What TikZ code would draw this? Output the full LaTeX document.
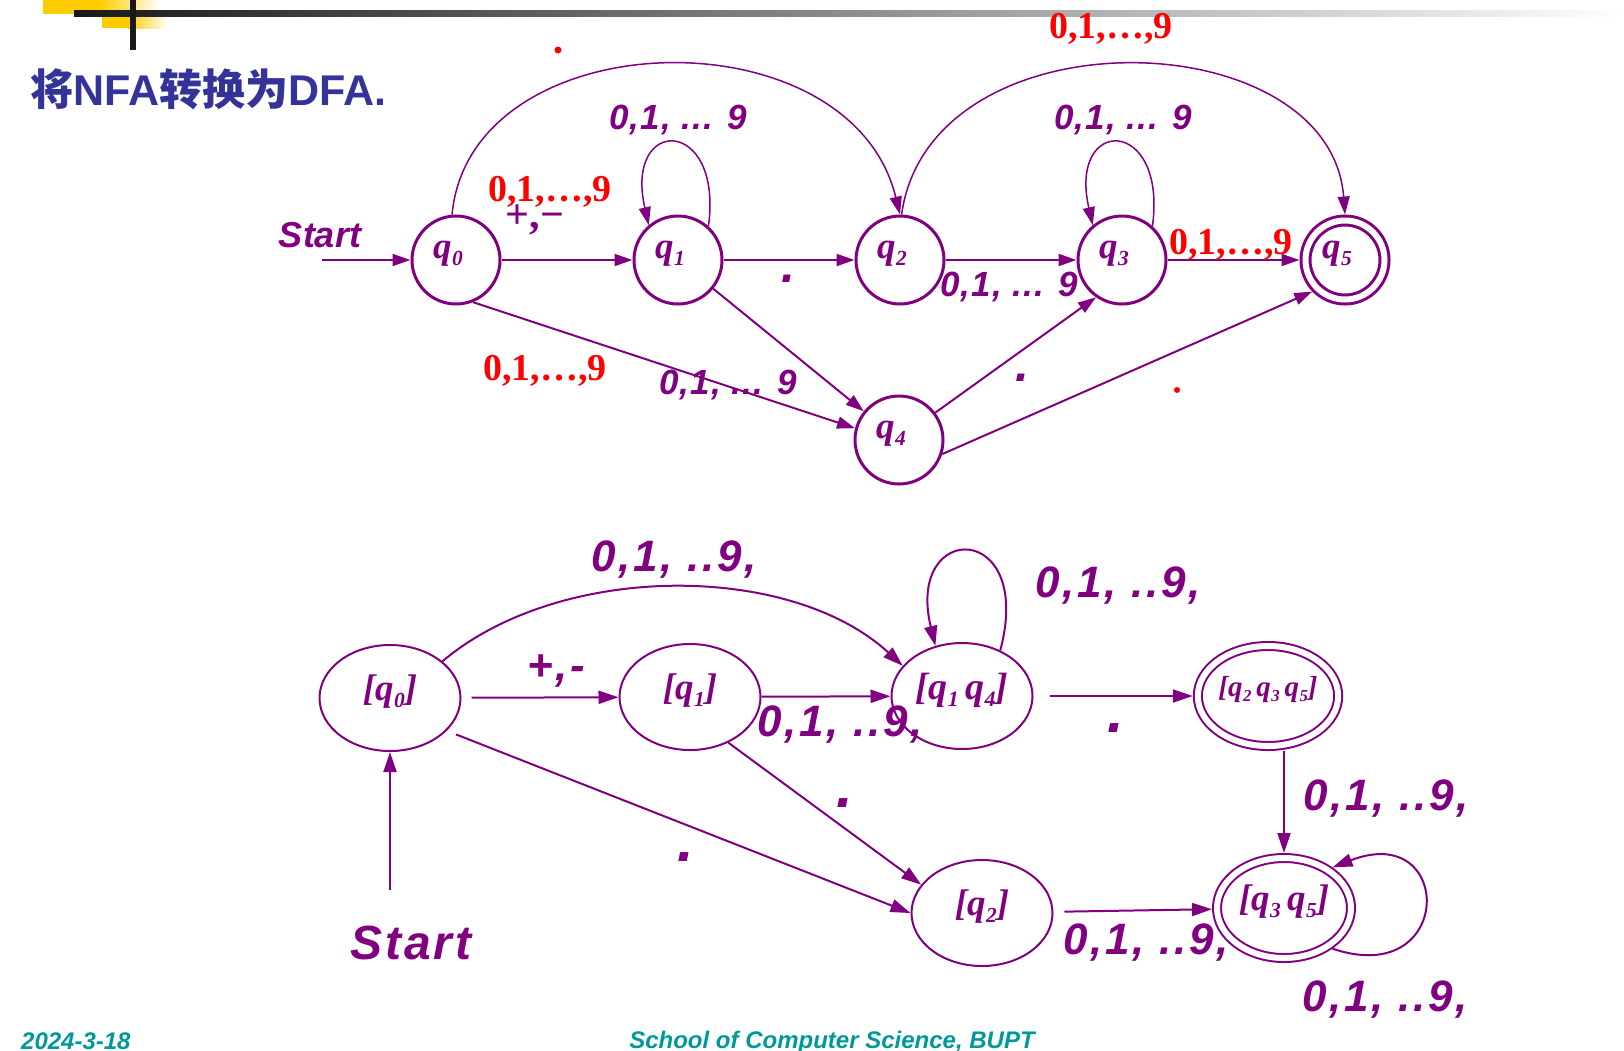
\documentclass[tikz,border=0pt]{standalone}
\usepackage{fontspec}
\setmainfont{Liberation Serif}
\setsansfont{Liberation Sans}
\newfontfamily\cjkfont{Noto Sans CJK SC}
\usetikzlibrary{arrows.meta,shapes.geometric,calc}
\definecolor{nfaPurple}{RGB}{128,0,128}
\definecolor{titleBlue}{RGB}{51,51,153}
\definecolor{footTeal}{RGB}{0,153,153}
\definecolor{barYellow}{RGB}{255,204,0}
\newcommand{\qn}[1]{q\kern.5pt\raisebox{-.18em}{\scalebox{.58}{#1}}}
\newcommand{\nfaName}[1]{\raisebox{20pt}{\qn{#1}}\kern16pt}
\newcommand{\dfaName}[1]{\raisebox{20pt}{[#1]}}

\begin{document}
\begin{tikzpicture}[x=1pt,y=-1pt,
				nfaState/.style={draw=nfaPurple,circle,line width=3pt,minimum size=88pt,inner sep=0pt,text=nfaPurple,font=\fontsize{37}{37}\selectfont\bfseries\itshape},
				nfaFinal/.style={nfaState,double,double distance=6pt,minimum size=79pt,outer sep=6pt},
				dfaState/.style={draw=nfaPurple,ellipse,line width=2pt,minimum width=141pt,minimum height=106pt,inner sep=0pt,text=nfaPurple,font=\fontsize{37}{37}\selectfont\bfseries\itshape},
				dfaFinal/.style={dfaState,double,double distance=6pt,minimum width=134pt,minimum height=100pt,outer sep=5pt},
				nfaEdge/.style={draw=nfaPurple,line width=2pt,-{Triangle[length=18pt,width=12pt]}},
				nfaLoop/.style={nfaEdge,line width=1.5pt},
				dfaEdge/.style={draw=nfaPurple,line width=2pt,-{Triangle[length=20pt,width=13pt]}},
				nfaLabel/.style={text=nfaPurple,inner sep=0pt,font=\fontsize{35}{35}\selectfont\sffamily\bfseries\itshape\addfontfeature{LetterSpace=3}},
				redLabel/.style={text=red,inner sep=0pt,font=\fontsize{38}{38}\selectfont\rmfamily\bfseries},
				dfaLabel/.style={text=nfaPurple,inner sep=0pt,font=\fontsize{44}{44}\selectfont\sffamily\bfseries\itshape\addfontfeature{LetterSpace=6}},
				dotLabel/.style={text=nfaPurple,inner sep=0pt,font=\fontsize{60}{60}\selectfont\sffamily\bfseries\itshape},
				footText/.style={text=footTeal,inner sep=0pt,font=\fontsize{24}{24}\selectfont\sffamily\bfseries\itshape}]
			\useasboundingbox (0,0) rectangle (1624,1050);
			\fill[barYellow] (43,0) rectangle (100,14);
			\shade[left color=barYellow,right color=white] (100,0) rectangle (160,14);
			\fill[barYellow] (102,14) rectangle (128,28);
			\shade[left color=barYellow,right color=white] (128,14) rectangle (168,28);
			\shade[left color=black!90,middle color=black!35,right color=white] (74,10) rectangle (1624,16);
			\fill[black!90] (130,0) rectangle (136,50);
			\node[anchor=west,text=titleBlue,inner sep=0pt,font=\fontsize{43}{43}\selectfont\sffamily\bfseries] (title) at (30,89) {{\cjkfont\bfseries 将}NFA{\cjkfont\bfseries 转换为}DFA.};

			\node[nfaState] (q0) at (456,260) {\nfaName{0}};
			\node[nfaState] (q1) at (678,260) {\nfaName{1}};
			\node[nfaState] (q2) at (900,260) {\nfaName{2}};
			\node[nfaState] (q3) at (1122,260) {\nfaName{3}};
			\node[nfaFinal] (q5) at (1345,260) {\nfaName{5}};
			\node[nfaState] (q4) at (899,440) {\nfaName{4}};
			\coordinate (startTop) at (322,260);
			\node[nfaLabel,font=\fontsize{36}{36}\selectfont\sffamily\bfseries\itshape] (startTopText) at (320,235) {Start};

			\draw[nfaEdge] (startTop) -- (q0);
			\draw[nfaEdge] (q0) -- (q1);
			\draw[nfaEdge] (q1) -- (q2);
			\draw[nfaEdge] (q2) -- (q3);
			\draw[nfaEdge] (q3) -- (q5);
			\draw[nfaEdge] (q0.-68) -- (q4.165);
			\draw[nfaEdge] (q1) -- (q4);
			\draw[nfaEdge] (q4.37) -- (q3.-125);
			\draw[nfaEdge] (q4.-18) -- (q5.-136);
			\draw[nfaLoop] (q1.48) .. controls +(15,-110) and +(-25,-110) .. (q1.130);
			\draw[nfaLoop] (q3.48) .. controls +(15,-110) and +(-25,-110) .. (q3.130);
			\draw[nfaLoop] (q0.95) .. controls (470,20) and (850,10) .. (q2.90);
			\draw[nfaLoop] (q2.88) .. controls (930,10) and (1330,20) .. (q5.90);

			\node[redLabel] (r01) at (550,192) {0,1,…,9};
			\node[text=nfaPurple,inner sep=0pt,font=\fontsize{42}{42}\selectfont\rmfamily\bfseries] (pm01) at (535,220) {+,−};
			\node[nfaLabel] (l11) at (678,120) {0,1, ... 9};
			\node[dotLabel,font=\fontsize{50}{50}\selectfont\sffamily\bfseries\itshape] (l12) at (788,279) {.};
			\node[nfaLabel] (l23) at (1009,287) {0,1, ... 9};
			\node[nfaLabel] (l33) at (1123,120) {0,1, ... 9};
			\node[redLabel] (r25) at (1111,29) {0,1,…,9};
			\node[redLabel] (r35) at (1231,245) {0,1,…,9};
			\node[redLabel] (r02) at (545,371) {0,1,…,9};
			\node[nfaLabel] (l04) at (728,385) {0,1, ... 9};
			\node[dotLabel,font=\fontsize{50}{50}\selectfont\sffamily\bfseries\itshape] (l43) at (1022,378) {.};
			\fill[red] (558,50) circle (3.5);
			\fill[red] (1177,390) circle (3);

			\node[dfaState] (dq0) at (390,698) {\dfaName{\qn{0}}};
			\node[dfaState] (dq1) at (690,697) {\dfaName{\qn{1}}};
			\node[dfaState,font=\fontsize{38}{38}\selectfont\bfseries\itshape] (dq14) at (962,696) {\dfaName{\qn{1}\,\qn{4}}};
			\node[dfaFinal,font=\fontsize{29}{29}\selectfont\bfseries\itshape] (dq235) at (1268,696) {\dfaName{\qn{2}\,\qn{3}\,\qn{5}}};
			\node[dfaState] (dq2) at (982,913) {\dfaName{\qn{2}}};
			\node[dfaFinal] (dq35) at (1284,908) {\dfaName{\qn{3}\,\qn{5}}};
			\coordinate (startBot) at (390,890);
			\node[dfaLabel,font=\fontsize{48}{48}\selectfont\sffamily\bfseries\itshape\addfontfeature{LetterSpace=6}] (startBotText) at (411,943) {Start};

			\draw[dfaEdge] (startBot) -- (dq0);
			\draw[dfaEdge,shorten <=10pt] (dq0) -- (dq1);
			\draw[dfaEdge] (dq1) -- (dq14);
			\draw[dfaEdge,shorten <=16pt] (dq14) -- (dq235);
			\draw[dfaEdge] (dq35.north |- dq235.south) -- (dq35.north);
			\draw[dfaEdge,shorten <=11pt] (dq2) -- (dq35);
			\draw[dfaEdge,shorten <=10pt] (dq0.-30) -- (dq2.west);
			\draw[dfaEdge] (dq1.-50) -- (dq2.155);
			\draw[dfaEdge] (dq0.35) .. controls (560,562) and (790,562) .. (dq14.153);
			\draw[dfaEdge] (dq14.50) .. controls (1035,520) and (905,520) .. (dq14.118);
			\draw[dfaEdge] (dq35.-40) .. controls (1455,990) and (1455,820) .. (dq35.40);

			\node[dfaLabel] (m01) at (556,671) {+,-};
			\node[dfaLabel] (m014) at (674,560) {0,1, ..9,};
			\node[dfaLabel] (m114) at (840,725) {0,1, ..9,};
			\node[dfaLabel] (m1414) at (1118,586) {0,1, ..9,};
			\node[dotLabel] (m14235) at (1116,728) {.};
			\node[dotLabel] (m12) at (845,803) {.};
			\node[dotLabel] (m02) at (686,857) {.};
			\node[dfaLabel] (m23535) at (1386,799) {0,1, ..9,};
			\node[dfaLabel] (m235) at (1146,943) {0,1, ..9,};
			\node[dfaLabel] (m3535) at (1385,1000) {0,1, ..9,};

			\node[footText,anchor=base west] (date) at (21,1049) {2024-3-18};
			\node[footText,anchor=base] (school) at (832,1048) {School of Computer Science, BUPT};
		\end{tikzpicture}
\end{document}
